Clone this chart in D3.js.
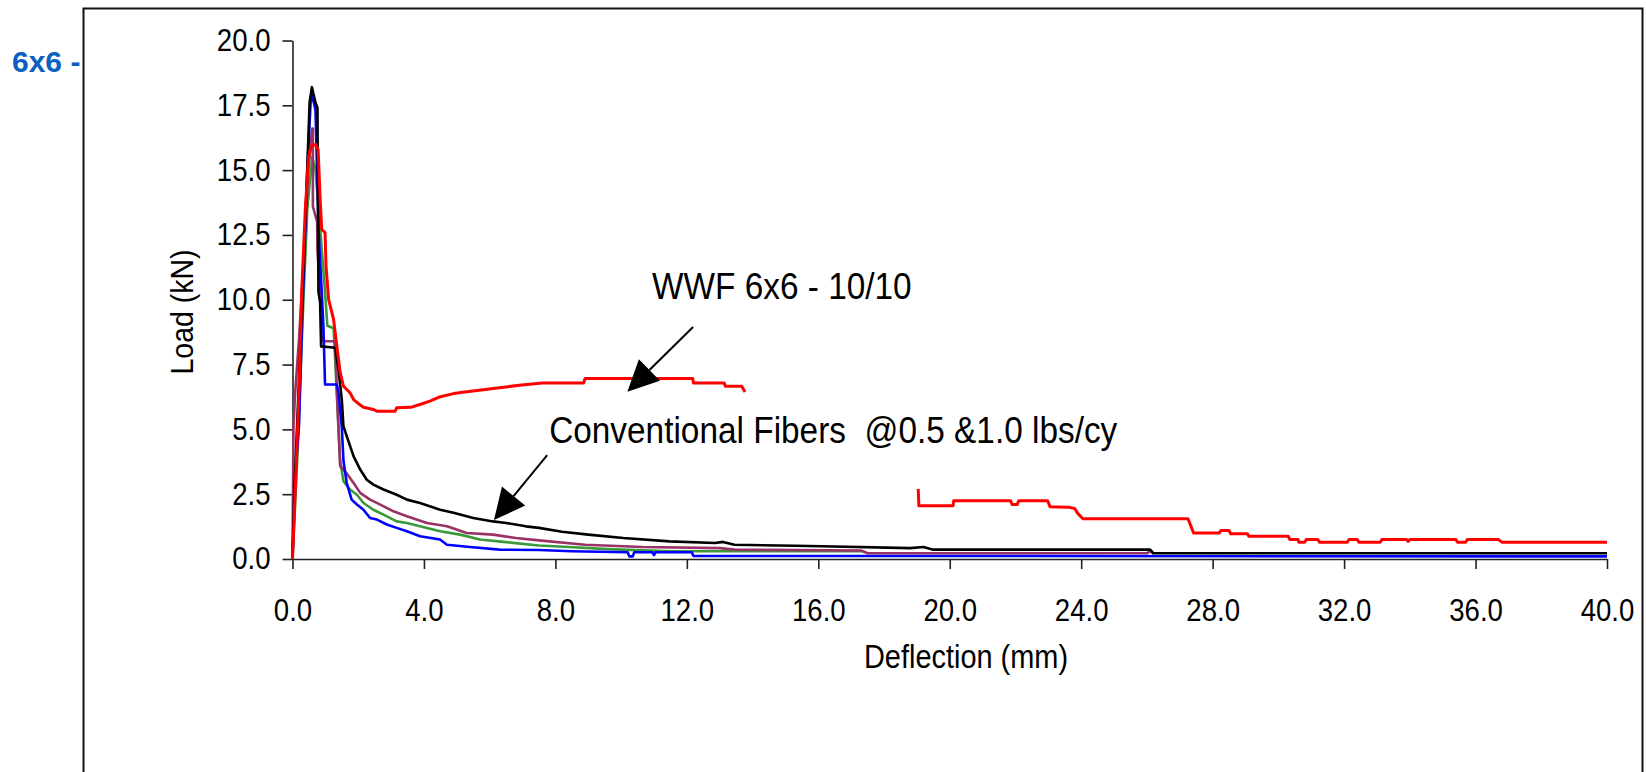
<!DOCTYPE html>
<html><head><meta charset="utf-8">
<script src="https://cdn.jsdelivr.net/npm/d3@7"></script>
<style>
html,body{margin:0;padding:0;background:#fff;}
svg{display:block;}
text{font-family:"Liberation Sans",Arial,sans-serif;}
</style>
</head><body>
<svg id="chart" width="1646" height="772"></svg>
<script>
// ---------- tick values ----------
const xTickValues = [0, 4, 8, 12, 16, 20, 24, 28, 32, 36, 40];
const yTickValues = [0, 2.5, 5, 7.5, 10, 12.5, 15, 17.5, 20];

// ---------- series: [deflection mm, load kN] ----------
const wwfPart1 = [[0,0],[0.08,2.5],[0.2,6.5],[0.28,10.3],[0.39,13.5],[0.49,15.5],[0.56,15.9],[0.7,16.0],[0.78,15.8],[0.84,13.9],[0.89,12.7],[0.99,12.6],[1.02,11.3],[1.1,10.0],[1.15,9.75],[1.25,9.24],[1.35,8.2],[1.45,7.2],[1.55,6.67],[1.65,6.54],[1.75,6.41],[1.86,6.15],[2.0,6.0],[2.16,5.85],[2.46,5.77],[2.57,5.7],[3.12,5.7],[3.17,5.83],[3.6,5.85],[3.9,5.97],[4.2,6.1],[4.5,6.26],[4.9,6.38],[5.3,6.45],[5.75,6.52],[6.1,6.58],[6.9,6.7],[7.6,6.79],[8.86,6.79],[8.9,6.96],[12.18,6.96],[12.2,6.79],[13.14,6.79],[13.17,6.66],[13.67,6.66],[13.77,6.44]];
const wwfPart2 = [[19.04,2.70],[19.06,2.05],[20.1,2.05],[20.12,2.25],[21.85,2.25],[21.9,2.1],[22.05,2.1],[22.1,2.25],[22.98,2.25],[23.05,2.02],[23.6,2.0],[23.8,1.95],[23.9,1.75],[24.05,1.55],[27.25,1.55],[27.42,1.0],[28.2,1.0],[28.25,1.1],[28.5,1.1],[28.55,0.97],[29.06,0.97],[29.1,0.88],[30.3,0.88],[30.35,0.75],[30.6,0.75],[30.62,0.65],[30.8,0.65],[30.85,0.75],[31.2,0.75],[31.25,0.65],[32.1,0.65],[32.15,0.75],[32.4,0.75],[32.45,0.65],[33.1,0.65],[33.15,0.75],[33.9,0.75],[33.95,0.68],[34.0,0.75],[35.4,0.75],[35.45,0.65],[35.7,0.65],[35.75,0.75],[36.7,0.75],[36.8,0.65],[40,0.65]];
const fiberBlack = [[0,0],[0.05,2.4],[0.25,8.5],[0.42,14],[0.52,17.6],[0.59,18.2],[0.7,17.6],[0.76,17.4],[0.79,10.3],[0.84,9.9],[0.87,8.2],[1.3,8.15],[1.4,7.3],[1.5,6.15],[1.55,5.12],[1.65,4.74],[1.86,3.96],[2.06,3.45],[2.26,3.06],[2.46,2.87],[2.77,2.68],[3.17,2.48],[3.48,2.29],[3.88,2.16],[4.49,1.9],[4.9,1.78],[5.5,1.58],[6.1,1.45],[6.5,1.39],[7.1,1.26],[7.5,1.2],[8.2,1.05],[9.0,0.94],[10.07,0.81],[11.47,0.68],[12.86,0.62],[13.1,0.66],[13.45,0.55],[15.3,0.51],[16.1,0.49],[18.8,0.42],[19.2,0.46],[19.5,0.36],[26.1,0.36],[26.2,0.22],[40,0.22]];
const fiberBlue = [[0,0],[0.1,3.5],[0.2,5.2],[0.3,9.5],[0.45,15],[0.55,17.6],[0.6,17.9],[0.7,17.3],[0.8,12.5],[0.89,10.3],[0.94,9.0],[0.99,6.73],[1.35,6.73],[1.4,6.4],[1.5,5.1],[1.55,3.8],[1.65,2.93],[1.8,2.29],[1.96,2.1],[2.16,1.9],[2.36,1.58],[2.57,1.52],[2.87,1.33],[3.17,1.2],[3.48,1.07],[3.88,0.88],[4.49,0.75],[4.7,0.55],[5.4,0.46],[6.3,0.36],[7.5,0.35],[8.5,0.3],[10.2,0.26],[10.25,0.1],[10.35,0.1],[10.4,0.26],[10.95,0.26],[11.0,0.15],[11.05,0.26],[12.15,0.26],[12.2,0.12],[40,0.1]];
const fiberGreen = [[0,0],[0.15,4],[0.3,9],[0.45,13.5],[0.6,15.5],[0.7,15.0],[0.85,12.6],[0.99,10.3],[1.06,9.0],[1.25,8.9],[1.35,6.4],[1.4,5.1],[1.45,3.8],[1.55,3.0],[1.75,2.68],[1.96,2.48],[2.16,2.16],[2.46,1.9],[2.77,1.71],[3.17,1.45],[3.48,1.39],[3.88,1.26],[4.49,1.07],[5.1,0.94],[5.7,0.75],[6.5,0.65],[7.5,0.52],[8.4,0.46],[9.6,0.38],[11.5,0.3],[17.4,0.3]];
const fiberPurple = [[0,0],[0.03,5.1],[0.08,6.4],[0.2,8.5],[0.34,11.5],[0.48,15.0],[0.6,16.6],[0.62,16.6],[0.62,13.6],[0.75,13.0],[0.76,11.9],[0.85,10],[0.94,8.4],[1.3,8.4],[1.35,6.4],[1.45,3.58],[1.65,3.3],[1.86,2.93],[2.06,2.55],[2.36,2.29],[2.67,2.1],[3.07,1.84],[3.48,1.65],[4.09,1.39],[4.7,1.26],[5.3,1.0],[6.1,0.94],[6.8,0.81],[7.5,0.72],[8.9,0.55],[10.65,0.46],[13.0,0.42],[13.45,0.36],[17.3,0.33],[17.5,0.22],[26.0,0.22],[26.1,0.3],[26.2,0.2]];

// ---------- annotations (data coordinates) ----------
const annotationTexts = ["WWF 6x6 - 10/10", "Conventional Fibers  @0.5 &1.0 lbs/cy"];
const annotationAnchors = [[10.94, 10.03], [7.81, 4.47]];
const arrowTails = [[12.19, 8.95], [7.75, 4.01]];
const arrowTips = [[10.19, 6.45], [6.13, 1.5]];

// ---------- drawing ----------
const svg = d3.select("#chart");
const x = d3.scaleLinear().domain([0, 40]).range([292.5, 1607]);
const y = d3.scaleLinear().domain([0, 20]).range([559, 40.5]);
const CONDENSE = 0.89;
function condense(sel) {
  sel.each(function () {
    const l = this.getComputedTextLength();
    this.setAttribute("textLength", l * CONDENSE);
    this.setAttribute("lengthAdjust", "spacingAndGlyphs");
  });
}

// outer frame
svg.append("rect").attr("x", 83.5).attr("y", 8.5).attr("width", 1559).attr("height", 800)
  .attr("fill", "none").attr("stroke", "#111").attr("stroke-width", 2);

svg.append("text").attr("x", 12).attr("y", 72).attr("font-size", 30).attr("font-weight", "bold")
  .attr("fill", "#0a5fc0").style("white-space", "pre").text("6x6 -");

// axes
const fmt = d3.format(".1f");
const gx = svg.append("g").attr("transform", `translate(0,${y(0)})`)
  .call(d3.axisBottom(x).tickValues(xTickValues).tickFormat(fmt).tickSizeInner(10).tickSizeOuter(0).tickPadding(30));
const gy = svg.append("g").attr("transform", `translate(${x(0)},0)`)
  .call(d3.axisLeft(y).tickValues(yTickValues).tickFormat(fmt).tickSizeInner(10).tickSizeOuter(0).tickPadding(12));
[gx, gy].forEach(g => {
  g.attr("font-family", null).attr("font-size", null);
  g.select(".domain").attr("stroke", "#222").attr("stroke-width", 1.6);
  g.selectAll(".tick line").attr("stroke", "#222").attr("stroke-width", 1.6);
  g.selectAll(".tick text").attr("fill", "#000").attr("font-size", 31).call(condense);
});

// axis titles
svg.append("text").attr("x", 966).attr("y", 668).attr("text-anchor", "middle")
  .attr("font-size", 32.5).text("Deflection (mm)").call(condense);
svg.append("text").attr("transform", "translate(193,312) rotate(-90)").attr("text-anchor", "middle")
  .attr("font-size", 32).text("Load (kN)").call(condense);

// series
const line = d3.line().x(d => x(d[0])).y(d => y(d[1]));
const seriesList = [
  { data: fiberGreen, color: "#3a9a3a", w: 2.6 },
  { data: fiberPurple, color: "#993366", w: 2.6 },
  { data: fiberBlue, color: "#0000ff", w: 2.6 },
  { data: fiberBlack, color: "#000000", w: 2.6 },
  { data: wwfPart1, color: "#ff0000", w: 3 },
  { data: wwfPart2, color: "#ff0000", w: 3 }
];
svg.append("g").selectAll("path").data(seriesList).join("path")
  .attr("d", d => line(d.data)).attr("fill", "none")
  .attr("stroke", d => d.color).attr("stroke-width", d => d.w)
  .attr("stroke-linejoin", "round");

// annotations
svg.append("g").selectAll("text").data(annotationTexts).join("text")
  .attr("x", (d, i) => x(annotationAnchors[i][0])).attr("y", (d, i) => y(annotationAnchors[i][1]))
  .attr("font-size", 37.5).style("white-space", "pre").attr("fill", "#000").text(d => d).call(condense);

const ag = svg.append("g");
arrowTails.forEach((t, i) => {
  const x1 = x(t[0]), y1 = y(t[1]), x2 = x(arrowTips[i][0]), y2 = y(arrowTips[i][1]);
  const dx = x2 - x1, dy = y2 - y1, L = Math.hypot(dx, dy), ux = dx / L, uy = dy / L;
  const headL = 31, headW = 15;
  const bx = x2 - ux * headL, by = y2 - uy * headL;
  ag.append("line").attr("x1", x1).attr("y1", y1).attr("x2", bx).attr("y2", by)
    .attr("stroke", "#000").attr("stroke-width", 2);
  ag.append("path").attr("d", `M${x2},${y2}L${bx - uy * headW},${by + ux * headW}L${bx + uy * headW},${by - ux * headW}Z`)
    .attr("fill", "#000");
});
</script>
</body></html>
